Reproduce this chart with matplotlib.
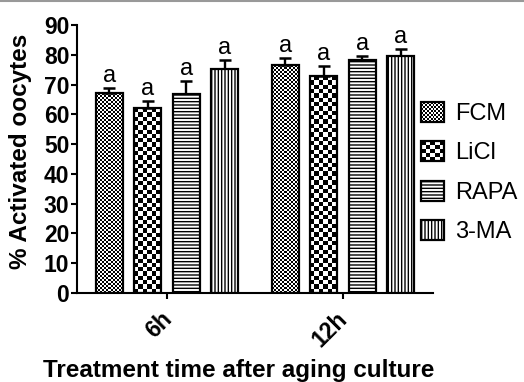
import numpy as np
import matplotlib
matplotlib.use("Agg")
import matplotlib.pyplot as plt
import matplotlib.transforms as mtransforms
from matplotlib.patches import Rectangle, Patch
from matplotlib.legend_handler import HandlerBase
from matplotlib.lines import Line2D

plt.rcParams['font.family'] = ['Liberation Sans', 'DejaVu Sans']
plt.rcParams['hatch.linewidth'] = 1.0

# data
groups = ["6h", "12h"]
treatments = ["FCM", "LiCl", "RAPA", "3-MA"]
means = {
    "FCM":  [67.1, 76.5],
    "LiCl": [62.1, 72.8],
    "RAPA": [66.7, 78.2],
    "3-MA": [75.2, 79.5],
}
sem = {
    "FCM":  [1.7, 2.4],
    "LiCl": [2.3, 3.4],
    "RAPA": [4.4, 1.3],
    "3-MA": [3.0, 2.3],
}
letters = {
    "FCM":  ["a", "a"],
    "LiCl": ["a", "a"],
    "RAPA": ["a", "a"],
    "3-MA": ["a", "a"],
}

# fill style per treatment: checker cell size in px, or a hatch
styles = {
    "FCM":  ("checker", 2.0),
    "LiCl": ("checker", 4.3),
    "RAPA": ("hatch", "-----"),
    "3-MA": ("hatch", "|||||"),
}

W, H, DPI = 524, 382, 100
fig = plt.figure(figsize=(W / DPI, H / DPI), dpi=DPI)
ax = fig.add_axes([77 / W, 89 / H, (433 - 77) / W, (357 - 89) / H])

bar_w = 0.153
step = 0.219
offsets = (np.arange(len(treatments)) - 1.5) * step
x = np.arange(len(groups))

ax.set_xlim(-0.511, 1.511)
ax.set_ylim(0, 90)


def checker_grid(nx, ny):
    return np.indices((ny, nx)).sum(axis=0) % 2


def checker_fill(ax, bar, cell_px):
    x0, y0 = bar.get_x(), bar.get_y()
    w, h = bar.get_width(), bar.get_height()
    (px0, py0), (px1, py1) = ax.transData.transform([(x0, y0), (x0 + w, y0 + h)])
    nx = max(1, int(round((px1 - px0) / cell_px)))
    ny = max(1, int(round((py1 - py0) / cell_px)))
    ax.imshow(checker_grid(nx, ny), cmap="gray", extent=(x0, x0 + w, y0, y0 + h),
              aspect="auto", interpolation="nearest", zorder=2, origin="lower")


for i, t in enumerate(treatments):
    kind, val = styles[t]
    bars = ax.bar(x + offsets[i], means[t], bar_w, facecolor="white" if kind == "hatch" else "none",
                  edgecolor="black", linewidth=1.6, zorder=3,
                  hatch=val if kind == "hatch" else None)
    if kind == "checker":
        for b in bars:
            checker_fill(ax, b, val)
    ax.errorbar(x + offsets[i], means[t], yerr=[np.zeros(len(groups)), sem[t]],
                fmt="none", ecolor="black", elinewidth=1.7, capsize=4, capthick=1.8, zorder=2.5)
    for j in range(len(groups)):
        ax.annotate(letters[t][j], (x[j] + offsets[i], means[t][j] + sem[t][j]),
                    xytext=(0, 1), textcoords="offset points", ha="center", va="bottom",
                    fontsize=17)

ax.set_xlim(-0.511, 1.511)
ax.set_ylim(0, 90)

for s in ["top", "right"]:
    ax.spines[s].set_visible(False)
for s in ["left", "bottom"]:
    ax.spines[s].set_linewidth(1.5)

ax.set_yticks(np.arange(0, 91, 10))
ax.set_xticks(x)
ax.set_xticklabels(groups, rotation=45, ha="right", rotation_mode="anchor")
ax.tick_params(axis="both", width=1.5, length=4.5, labelsize=16.5)
ax.tick_params(axis="y", pad=1)
ax.tick_params(axis="x", pad=6)
shift = mtransforms.ScaledTranslation(-5 / 72, 0, fig.dpi_scale_trans)
for lbl in ax.get_xticklabels():
    lbl.set_transform(lbl.get_transform() + shift)
for lbl in ax.get_xticklabels() + ax.get_yticklabels():
    lbl.set_fontweight("bold")

fig.text(21 / W, 1 - 151 / H, "% Activated oocytes", rotation=90,
         ha="center", va="center", fontsize=17.5, fontweight="bold")
fig.text(239 / W, 1 - 377 / H, "Treatment time after aging culture",
         ha="center", va="baseline", fontsize=17.5, fontweight="bold")


class CheckerHandler(HandlerBase):
    def __init__(self, cell_px):
        super().__init__()
        self.cell_px = cell_px

    def create_artists(self, legend, orig_handle, xdescent, ydescent, width, height,
                       fontsize, trans):
        x0, y0 = -xdescent, -ydescent
        artists = []
        n_x = max(1, int(round(width / (self.cell_px * 72 / DPI))))
        n_y = max(1, int(round(height / (self.cell_px * 72 / DPI))))
        cw, ch = width / n_x, height / n_y
        grid = checker_grid(n_x, n_y)
        for r in range(n_y):
            for c in range(n_x):
                if grid[r, c] == 0:
                    artists.append(Rectangle((x0 + c * cw, y0 + r * ch), cw, ch,
                                             facecolor="black", edgecolor="none",
                                             transform=trans))
        artists.append(Rectangle((x0, y0), width, height, facecolor="none",
                                 edgecolor="black", linewidth=1.6, transform=trans))
        return artists


handles = []
handler_map = {}
for t in treatments:
    kind, val = styles[t]
    if kind == "checker":
        h = Patch(facecolor="white", edgecolor="black", label=t)
        handler_map[h] = CheckerHandler(val)
    else:
        h = Patch(facecolor="white", edgecolor="black", hatch=val, linewidth=1.6, label=t)
    handles.append(h)

fig.legend(handles=handles, loc="upper left", bbox_to_anchor=(421 / W, 1 - 102 / H),
           bbox_transform=fig.transFigure, frameon=False, fontsize=17,
           handlelength=0.98, handleheight=0.9, handletextpad=0.45, labelspacing=0.7,
           borderpad=0, borderaxespad=0, handler_map=handler_map)

fig.add_artist(Line2D([0, 1], [1 - 1 / H, 1 - 1 / H], transform=fig.transFigure,
                      color="#999999", linewidth=1.5))

fig.savefig("out.png", dpi=DPI)
